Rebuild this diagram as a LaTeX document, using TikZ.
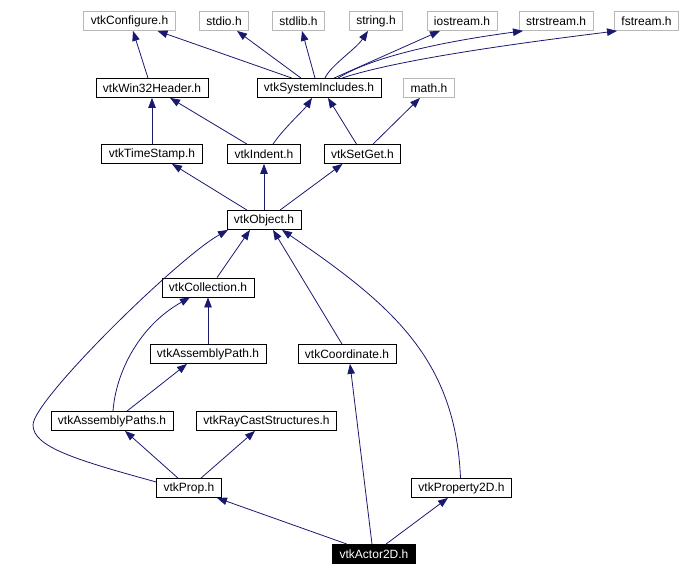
\documentclass[tikz,border=0pt]{standalone}
\usepackage{fontspec}
\setmainfont{Liberation Sans}
\usepackage{tikz}
\usetikzlibrary{arrows.meta}
\definecolor{edgeblue}{HTML}{191970}

\begin{document}
\begin{tikzpicture}[
		x=1pt, y=-1pt,
		hdr/.style={rectangle, draw, line width=0.8pt, minimum height=19pt, inner xsep=7pt, inner ysep=0pt, font=\fontsize{12}{14}\selectfont},
		ext/.style={hdr, draw=black!28},
		arr/.style={-{Triangle[length=10pt, width=7.5pt]}, edgeblue, line width=0.8pt}
		]
		\useasboundingbox (0,0) rectangle (680,576);
		% system headers
		\node[ext] (conf) at (129.5,21) {vtkConfigure.h};
		\node[ext] (stdio) at (224,21) {stdio.h};
		\node[ext] (stdlib) at (298.5,21) {stdlib.h};
		\node[ext] (string) at (376,21) {string.h};
		\node[ext] (iostream) at (462,21) {iostream.h};
		\node[ext] (strstream) at (556,21) {strstream.h};
		\node[ext] (fstream) at (646.5,21) {fstream.h};
		\node[hdr] (win32) at (152,88) {vtkWin32Header.h};
		\node[hdr] (sysinc) at (319,88) {vtkSystemIncludes.h};
		\node[ext] (math) at (429,88) {math.h};
		\node[hdr] (tstamp) at (152,154) {vtkTimeStamp.h};
		\node[hdr] (indent) at (264,154) {vtkIndent.h};
		\node[hdr] (setget) at (362.5,154) {vtkSetGet.h};
		\node[hdr] (object) at (264,220) {vtkObject.h};
		\node[hdr] (collection) at (208,287.5) {vtkCollection.h};
		\node[hdr] (apath) at (208,354) {vtkAssemblyPath.h};
		\node[hdr] (coord) at (347,354) {vtkCoordinate.h};
		\node[hdr] (apaths) at (112,421) {vtkAssemblyPaths.h};
		\node[hdr] (raycast) at (266.5,421) {vtkRayCastStructures.h};
		\node[hdr] (prop) at (189,488) {vtkProp.h};
		\node[hdr] (prop2d) at (461.5,488) {vtkProperty2D.h};
		\node[hdr, fill=black, text=white] (actor) at (374,554) {vtkActor2D.h};

		% vtkWin32Header -> vtkConfigure
		\draw[arr] ([xshift=-4pt]win32.north) -- ([xshift=3.5pt]conf.south);
		% vtkSystemIncludes -> top row
		\draw[arr] ([xshift=-27pt]sysinc.north) -- ([xshift=28pt]conf.south);
		\draw[arr] ([xshift=-18pt]sysinc.north) -- ([xshift=13pt]stdio.south);
		\draw[arr] ([xshift=-4pt]sysinc.north) -- ([xshift=3.5pt]stdlib.south);
		\draw[arr] ([xshift=6pt]sysinc.north) .. controls +(5,-12) and +(-12,18) .. ([xshift=-8pt]string.south);
		\draw[arr] ([xshift=15pt]sysinc.north) -- ([xshift=-22pt]iostream.south);
		\draw[arr] ([xshift=19pt]sysinc.north) .. controls +(40,-25) and +(-60,8) .. ([xshift=-33pt]strstream.south);
		\draw[arr] ([xshift=23pt]sysinc.north) .. controls +(60,-20) and +(-80,10) .. ([xshift=-29.5pt]fstream.south);
		% third row
		\draw[arr] (tstamp.north) -- (win32.south);
		\draw[arr] ([xshift=-17pt]indent.north) -- ([xshift=18pt]win32.south);
		\draw[arr] ([xshift=9pt]indent.north) .. controls +(10,-15) and +(-8,12) .. ([xshift=-7pt]sysinc.south);
		\draw[arr] ([xshift=-6pt]setget.north) -- ([xshift=9pt]sysinc.south);
		\draw[arr] ([xshift=10.5pt]setget.north) -- ([xshift=-9pt]math.south);
		% vtkObject
		\draw[arr] ([xshift=-17pt]object.north) -- ([xshift=20pt]tstamp.south);
		\draw[arr] (object.north) -- (indent.south);
		\draw[arr] ([xshift=16pt]object.north) -- ([xshift=-20pt]setget.south);
		% into vtkObject from below
		\draw[arr] ([xshift=9pt]collection.north) -- ([xshift=-14pt]object.south);
		\draw[arr] ([xshift=-5pt]coord.north) -- ([xshift=9pt]object.south);
		\draw[arr] ([xshift=-1pt]prop2d.north) .. controls +(-5,-119) and +(110,75) .. ([xshift=18pt]object.south);
		\draw[arr] ([yshift=6pt]prop.west) .. controls +(-80,-22) and +(0,22) .. (33,425)
			.. controls +(0,-25) and +(-50,28) .. ([xshift=-36pt]object.south);
		% vtkCollection
		\draw[arr] (apath.north) -- (collection.south);
		\draw[arr] ([xshift=1pt]apaths.north) .. controls +(3,-40) and +(-50,28) .. ([xshift=-18pt]collection.south);
		\draw[arr] ([xshift=15pt]apaths.north) -- ([xshift=-21pt]apath.south);
		% vtkProp
		\draw[arr] ([xshift=-11pt]prop.north) -- ([xshift=13pt]apaths.south);
		\draw[arr] ([xshift=12pt]prop.north) -- ([xshift=-11.5pt]raycast.south);
		% vtkActor2D
		\draw[arr] ([xshift=-27pt]actor.north) -- ([xshift=28pt]prop.south);
		\draw[arr] ([xshift=-2pt]actor.north) -- ([xshift=3pt]coord.south);
		\draw[arr] ([xshift=12pt]actor.north) -- ([xshift=-13.5pt]prop2d.south);
	\end{tikzpicture}
\end{document}
